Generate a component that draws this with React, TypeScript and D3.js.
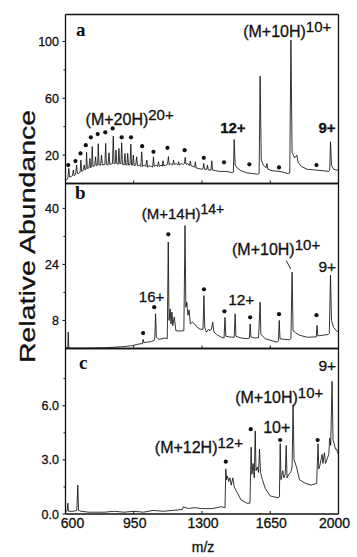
import React from 'react';
import * as d3 from 'd3';

type P = [number, number];

const mzTicks = [600, 950, 1300, 1650, 2000];
const ticksA = [20, 60, 100];
const ticksB = [8, 24, 40];
const ticksC = [0, 3, 6];
const minorA = [40, 80];
const minorB = [16, 32];
const minorC = [1.5, 4.5, 7.5];

const traceA: P[] = [[600,3],[605,2.5],[612,4],[617,10.6],[621,4.5],[630,5],[636,5.5],[640,9.4],[644,5.5],[652,6.5],[657,13],[661,7],[668,7],[675,8],[679,16.5],[683,8.5],[690,9],[696,13],[700,9.5],[705,10],[708,22],[712,10.5],[720,11],[725,17.7],[729,11],[734,12],[737,26],[741,12],[750,12.5],[754,18.8],[758,12.5],[765,13],[768,28],[772,13],[780,13],[785,20],[789,13],[802,13.5],[806,28.2],[810,13.5],[818,13],[823,21.6],[827,13.5],[841,14],[845,33.4],[849,14],[855,14],[859,23.5],[863,14],[870,13.5],[874,24.7],[878,14],[884,14],[888,28.7],[892,13.5],[900,13],[905,21.2],[909,13],[915,13],[919,21.2],[923,13],[931,13.5],[935,27.7],[939,13],[944,13],[948,20],[952,12.5],[960,13],[965,18.8],[969,12.5],[980,13],[986,12],[991,22.3],[995,12],[1005,13],[1012,12],[1017,16.5],[1021,11.5],[1030,12.5],[1040,12],[1047,11.5],[1051,18.8],[1055,12],[1065,13],[1072,12],[1077,15.3],[1081,12],[1090,13],[1096,12],[1100,16],[1104,12.5],[1115,13],[1123,13.5],[1128,19],[1132,13],[1140,14],[1150,13],[1154,16.5],[1158,13.5],[1168,14],[1176,13],[1180,15.3],[1184,13],[1195,14],[1205,13.5],[1210,14],[1214,18.4],[1218,13.5],[1228,14],[1236,12.5],[1240,15.7],[1244,12.5],[1255,12],[1262,11.5],[1266,15.3],[1270,11],[1285,10.5],[1300,10],[1305,10.5],[1309,14.1],[1313,10],[1324,10],[1328,13],[1332,9.5],[1346,9.5],[1350,16],[1354,9.5],[1370,9],[1390,8.5],[1420,8.5],[1445,8],[1455,7.5],[1461,8],[1465,31],[1470,13],[1480,11],[1500,9],[1530,7.5],[1560,7],[1585,6.5],[1593,7],[1598,75.6],[1604,16.5],[1615,13],[1628,11],[1633,14],[1638,10],[1660,9],[1700,8.5],[1740,7],[1750,7.5],[1756,101],[1762,22],[1775,18],[1787,20],[1792,15],[1810,12],[1840,10],[1880,9.5],[1920,9],[1950,8.5],[1955,9.5],[1959,29.4],[1964,13],[1975,10],[1990,9.5],[2000,9.5]];

const traceB: P[] = [[600,0.3],[608,0.3],[612,0.2],[614,4.7],[617,0.3],[625,0.1],[700,0.1],[800,0.2],[893,0.5],[940,0.8],[970,1.2],[990,1.4],[995,1.3],[998,2.6],[1002,1.7],[1020,1.8],[1040,2],[1055,2.3],[1058,3],[1062,9.9],[1066,3.2],[1080,2.6],[1095,2.8],[1110,3],[1122,2.8],[1127,30.4],[1131,8],[1137,11.3],[1141,7],[1146,10.4],[1150,6.5],[1158,9],[1166,5.1],[1180,5],[1195,5],[1207,5.1],[1213,35.1],[1217,11.8],[1222,13.2],[1228,9.5],[1234,11],[1240,7],[1250,7.5],[1262,7],[1275,6.1],[1290,5.5],[1305,5.5],[1310,15.1],[1314,6],[1322,4.7],[1334,5.5],[1340,5],[1348,5.5],[1355,7.5],[1361,4.7],[1375,4],[1400,3.2],[1413,3],[1418,8.9],[1422,3.5],[1440,3.3],[1465,3.2],[1470,9.9],[1474,3.5],[1500,3],[1530,2.8],[1543,3],[1547,7],[1551,3.3],[1570,3],[1590,3.1],[1598,13.2],[1602,4],[1625,2.8],[1660,2.2],[1685,1.8],[1692,2.2],[1696,8],[1700,2.8],[1725,2.6],[1750,2.5],[1756,2.8],[1762,21.8],[1767,5.1],[1780,4.5],[1800,3.8],[1840,3.2],[1870,3.3],[1886,3.3],[1890,6.6],[1894,3.6],[1920,3.8],[1948,4],[1953,4.3],[1959,20.9],[1964,8],[1975,6],[1990,5],[2000,4.7]];

const traceC: P[] = [[600,0.2],[606,0.15],[609,0.2],[612,0.6],[615,0.15],[640,0.15],[658,0.2],[663,1.6],[667,0.2],[680,0.15],[720,0.1],[800,0.1],[850,0.15],[900,0.1],[950,0.15],[1000,0.1],[1050,0.2],[1100,0.15],[1150,0.2],[1200,0.25],[1204,0.4],[1230,0.3],[1260,0.35],[1300,0.3],[1350,0.3],[1400,0.4],[1418,0.35],[1422,2.5],[1426,1.9],[1431,2.1],[1437,1.8],[1443,2.0],[1450,1.6],[1458,2.0],[1465,1.5],[1480,1.2],[1500,0.78],[1530,0.6],[1546,0.6],[1552,3.7],[1556,2.2],[1562,2.8],[1568,2.0],[1573,4.6],[1577,2.4],[1584,2.6],[1590,2.3],[1595,3.6],[1600,2.3],[1610,1.9],[1625,1.4],[1650,1.0],[1690,0.9],[1697,0.95],[1701,3.9],[1705,1.9],[1714,2.4],[1720,2.0],[1727,2.2],[1732,3.8],[1736,2.0],[1745,2.2],[1755,2.3],[1762,2.6],[1767,6.05],[1772,3.0],[1785,2.6],[1800,1.9],[1830,1.7],[1860,1.6],[1888,1.7],[1895,3.9],[1899,2.5],[1905,2.7],[1910,3.0],[1916,3.3],[1920,2.8],[1928,3.4],[1933,2.8],[1940,3.0],[1950,3.3],[1955,4.2],[1960,3.8],[1967,7.35],[1972,4.1],[1978,3.9],[1984,3.6],[1990,3.6],[1995,3.4],[2000,3.3]];

const dotsA: P[] = [[614,13],[651,15.8],[677,21.2],[704,27],[730,32.5],[765,34.8],[804,36],[842,38.8],[888,32.5],[936,32.5],[993,26.3],[1051,22.3],[1123,25.1],[1211,23.5],[1309,18.1],[1413,14.9],[1543,13.5],[1695,11.3],[1887,13]];
const dotsB: P[] = [[998,4.4],[1055,11.8],[1127,32.6],[1310,16.9],[1415,10.6],[1547,8.9],[1695,9.8],[1887,9.5]];
const dotsC: P[] = [[1422,2.9],[1550,4.7],[1701,4.1],[1893,4.1]];

const W = 357;
const H = 557;
const FONT = "'Liberation Sans', Arial, Helvetica, sans-serif";
const INK = '#111';
const THICK = { stroke: INK, strokeWidth: 0.3 };

const x = d3.scaleLinear().domain([600, 2000]).range([65.5, 338.5]);
const yA = d3.scaleLinear().domain([0, 119]).range([183.5, 14.5]);
const yB = d3.scaleLinear().domain([0, 47.1]).range([348.5, 183.5]);
const yC = d3.scaleLinear().domain([0, 9.17]).range([514, 348.5]);

const panels = [
  { key: 'a', trace: traceA, dots: dotsA, ticks: ticksA, minor: minorA, y: yA, fmt: (v: number) => String(v) },
  { key: 'b', trace: traceB, dots: dotsB, ticks: ticksB, minor: minorB, y: yB, fmt: (v: number) => String(v) },
  { key: 'c', trace: traceC, dots: dotsC, ticks: ticksC, minor: minorC, y: yC, fmt: (v: number) => v.toFixed(1) },
];

function Label({ mz, v, y, main, sup, size = 15.5, weight = 'normal' }: any) {
  return (
    <text x={x(mz)} y={y(v)} fontFamily={FONT} fontSize={size} fontWeight={weight} fill={INK} {...THICK}>
      {main}
      {sup ? <tspan dy={-5} fontSize={size - 1}>{sup}</tspan> : null}
    </text>
  );
}

export default function App() {
  const L = x.range()[0];
  const R = x.range()[1];
  return (
    <svg width={W} height={H} style={{ position: 'absolute', left: 0, top: 0, background: '#fff' }}>
      <rect x={0} y={0} width={W} height={H} fill="#fff" />
      {panels.map((p) => {
        const line = d3.line<P>().x((d) => x(d[0])).y((d) => p.y(d[1]));
        const [y0, y1] = p.y.range();
        return (
          <g key={p.key}>
            <path d={line(p.trace) || ''} fill="none" stroke={INK} strokeWidth={0.85} strokeLinejoin="round" />
            {p.dots.map((d, i) => (
              <circle key={i} cx={x(d[0])} cy={p.y(d[1])} r={2.1} fill={INK} />
            ))}
            {p.ticks.map((t) => (
              <g key={t}>
                <line x1={L - 3} x2={L} y1={p.y(t)} y2={p.y(t)} stroke={INK} strokeWidth={1} />
                <text x={59} y={p.y(t)} dy="0.36em" textAnchor="end" fontFamily={FONT} fontSize={12.5} fill={INK} {...THICK}>
                  {p.fmt(t)}
                </text>
              </g>
            ))}
            {p.minor.map((t) => (
              <line key={t} x1={L - 2} x2={L} y1={p.y(t)} y2={p.y(t)} stroke={INK} strokeWidth={1} />
            ))}
            {mzTicks.slice(1, -1).map((t) => (
              <line key={t} x1={x(t)} x2={x(t)} y1={y0} y2={y0 - 3} stroke={INK} strokeWidth={1} />
            ))}
            <line x1={L} x2={R} y1={y0} y2={y0} stroke={INK} strokeWidth={1.3} />
            <line x1={L} x2={R} y1={y1} y2={y1} stroke={INK} strokeWidth={1.3} />
          </g>
        );
      })}
      <line x1={L} x2={L} y1={yA.range()[1]} y2={yC.range()[0]} stroke={INK} strokeWidth={1.3} />
      <line x1={R} x2={R} y1={yA.range()[1]} y2={yC.range()[0]} stroke={INK} strokeWidth={1.3} />

      {mzTicks.map((t) => (
        <text key={t} x={x(t) + (t === 600 ? 7 : t === 2000 ? -4 : 1)} y={528} textAnchor="middle" fontFamily={FONT} fontSize={14} fill={INK} {...THICK}>
          {t}
        </text>
      ))}
      <text x={203} y={552} textAnchor="middle" fontFamily={FONT} fontSize={14} fill={INK} {...THICK}>m/z</text>
      <text transform="translate(35,236.5) rotate(-90)" textAnchor="middle" fontFamily={FONT} fontSize={22} textLength={253} lengthAdjust="spacingAndGlyphs" fill={INK} {...THICK}>
        Relative Abundance
      </text>

      <text x={76} y={36} fontFamily="'Liberation Serif', 'DejaVu Serif', serif" fontWeight="bold" fontSize={19} fill={INK}>a</text>
      <text x={75} y={199} fontFamily="'Liberation Serif', 'DejaVu Serif', serif" fontWeight="bold" fontSize={19} fill={INK}>b</text>
      <text x={79} y={369} fontFamily="'Liberation Serif', 'DejaVu Serif', serif" fontWeight="bold" fontSize={19} fill={INK}>c</text>

      <Label mz={1511} v={103} y={yA} main="(M+10H)" sup="10+" size={16} />
      <Label mz={703} v={41.1} y={yA} main="(M+20H)" sup="20+" size={16} />
      <Label mz={1393} v={35.5} y={yA} main="12+" size={15} weight="bold" />
      <Label mz={1897} v={35.5} y={yA} main="9+" size={15} weight="bold" />

      <Label mz={991} v={37.1} y={yB} main="(M+14H)" sup="14+" size={15} />
      <Label mz={1454} v={26.6} y={yB} main="(M+10H)" sup="10+" size={16} />
      <Label mz={1897} v={21.7} y={yB} main="9+" size={15.5} />
      <Label mz={976} v={13.4} y={yB} main="16+" size={15} />
      <Label mz={1434} v={12.3} y={yB} main="12+" size={15.5} />
      <line x1={x(1732)} y1={yB(25.1)} x2={x(1755)} y2={yB(22.7)} stroke={INK} strokeWidth={0.9} />

      <Label mz={1897} v={7.9} y={yC} main="9+" size={15.5} />
      <Label mz={1470} v={6.17} y={yC} main="(M+10H)" sup="10+" size={16} />
      <Label mz={1614} v={4.5} y={yC} main="10+" size={16} />
      <Label mz={1058} v={3.39} y={yC} main="(M+12H)" sup="12+" size={16} />
    </svg>
  );
}
